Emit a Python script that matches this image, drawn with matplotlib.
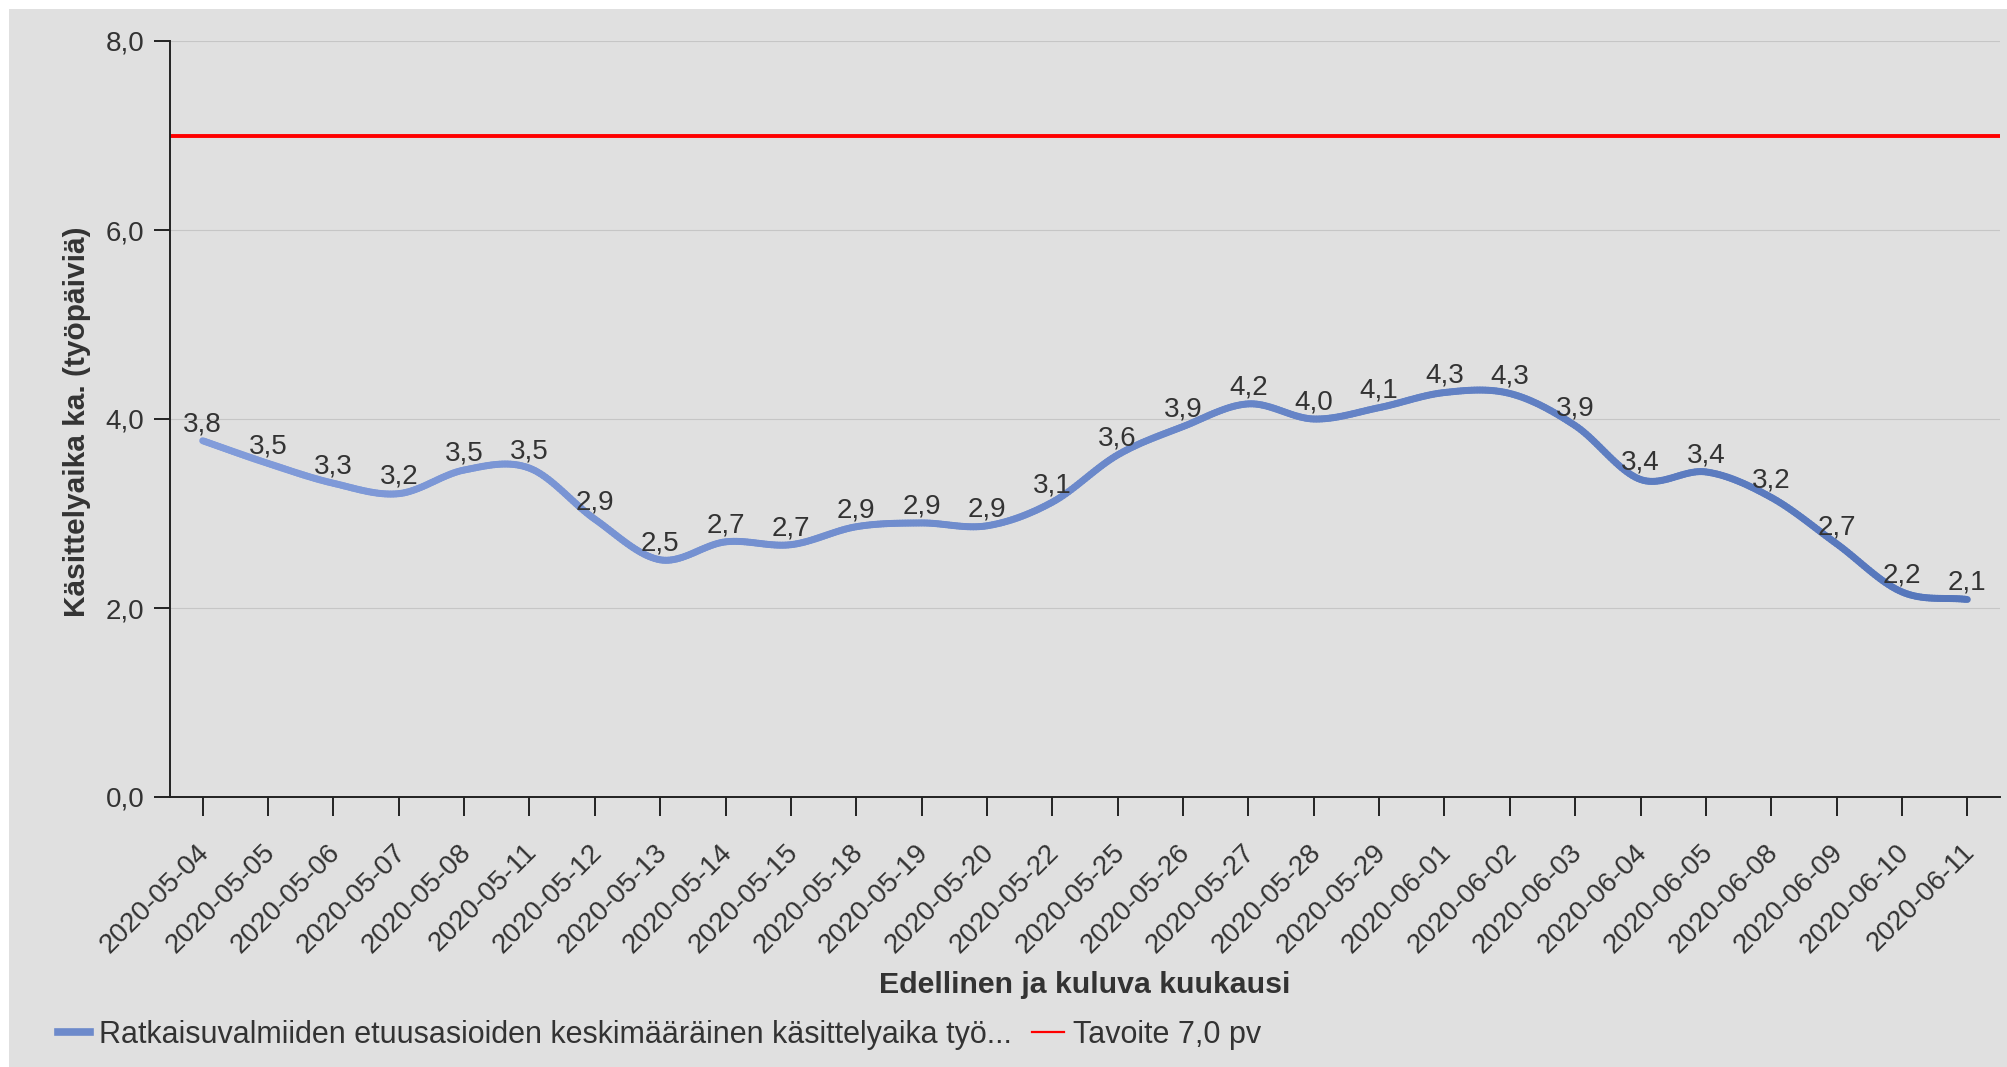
import numpy as np
import matplotlib
matplotlib.use("Agg")
import matplotlib.pyplot as plt
import matplotlib.transforms as mtransforms
from matplotlib.collections import LineCollection
from matplotlib.lines import Line2D
from matplotlib.patches import Rectangle
from matplotlib.colors import LinearSegmentedColormap

# data
dates = ["2020-05-04", "2020-05-05", "2020-05-06", "2020-05-07", "2020-05-08",
         "2020-05-11", "2020-05-12", "2020-05-13", "2020-05-14", "2020-05-15",
         "2020-05-18", "2020-05-19", "2020-05-20", "2020-05-22", "2020-05-25",
         "2020-05-26", "2020-05-27", "2020-05-28", "2020-05-29", "2020-06-01",
         "2020-06-02", "2020-06-03", "2020-06-04", "2020-06-05", "2020-06-08",
         "2020-06-09", "2020-06-10", "2020-06-11"]
days = [3.77, 3.53, 3.32, 3.21, 3.46, 3.48, 2.94, 2.51, 2.70, 2.67,
        2.86, 2.90, 2.87, 3.12, 3.62, 3.92, 4.16, 4.00, 4.12, 4.28,
        4.27, 3.93, 3.36, 3.44, 3.17, 2.68, 2.17, 2.09]
target = 7.0
y_ticks = [0, 2, 4, 6, 8]

series_name = "Ratkaisuvalmiiden etuusasioiden keskimääräinen käsittelyaika työ..."
target_name = "Tavoite 7,0 pv"

plt.rcParams["font.family"] = ["Liberation Sans", "DejaVu Sans"]
TXT = "#333333"
BG = "#e0e0e0"
FS = 20


def smooth(xs, ys, n=24):
    # cubic hermite (catmull-rom) path through the points, only for drawing
    xs = np.asarray(xs, float)
    ys = np.asarray(ys, float)
    m = np.zeros_like(ys)
    m[1:-1] = (ys[2:] - ys[:-2]) / 2
    m[0] = ys[1] - ys[0]
    m[-1] = ys[-1] - ys[-2]
    px, py = [], []
    for i in range(len(xs) - 1):
        t = np.linspace(0, 1, n, endpoint=False)
        h00 = 2 * t**3 - 3 * t**2 + 1
        h10 = t**3 - 2 * t**2 + t
        h01 = -2 * t**3 + 3 * t**2
        h11 = t**3 - t**2
        px.append(xs[i] + t * (xs[i + 1] - xs[i]))
        py.append(h00 * ys[i] + h10 * m[i] + h01 * ys[i + 1] + h11 * m[i + 1])
    px.append([xs[-1]])
    py.append([ys[-1]])
    return np.concatenate(px), np.concatenate(py)


fig = plt.figure(figsize=(20.08, 10.67), dpi=100, facecolor="white")
fig.patches.append(Rectangle((9 / 2008, 0), 1, 1 - 9 / 1067, transform=fig.transFigure,
                             facecolor=BG, edgecolor="none", zorder=-10))
ax = fig.add_axes([170 / 2008, 1 - 797 / 1067, 1830 / 2008, 756 / 1067])
ax.set_facecolor(BG)

x = np.arange(len(dates))
ax.set_xlim(-0.5, len(dates) - 0.5)
ax.set_ylim(0, 8)

ax.set_yticks(y_ticks)
ax.set_yticklabels([f"{v:.1f}".replace(".", ",") for v in y_ticks])
ax.grid(axis="y", color="#c6c6c6", lw=0.8)
ax.set_axisbelow(True)

ax.axhline(target, color="#ff0000", lw=2.8, zorder=2)

sx, sy = smooth(x, days)
pts = np.column_stack([sx, sy]).reshape(-1, 1, 2)
segs = np.concatenate([pts[:-1], pts[1:]], axis=1)
cmap = LinearSegmentedColormap.from_list("blu", ["#829cda", "#5576bb"])
lc = LineCollection(segs, cmap=cmap, linewidths=5, capstyle="round", zorder=3)
lc.set_array(sx[:-1])
lc.set_clim(0, len(dates) - 1)
ax.add_collection(lc)

for xi, v in zip(x, days):
    ax.annotate(f"{v:.1f}".replace(".", ","), (xi, v), xytext=(0, 12),
                textcoords="offset points", ha="center", va="center",
                fontsize=FS, color=TXT, zorder=4)

ax.set_xticks(x)
ax.set_xticklabels(dates, rotation=45, ha="right", va="baseline", rotation_mode="anchor")
ax.tick_params(axis="x", length=13.5, width=1.4, color="#222222", pad=27,
               labelsize=FS, labelcolor=TXT)
ax.tick_params(axis="y", length=11.5, width=1.4, color="#222222", pad=7,
               labelsize=FS, labelcolor=TXT)
# date labels sit a bit right of their ticks in the original
shift = mtransforms.ScaledTranslation(0.08, 0, fig.dpi_scale_trans)
for lab in ax.get_xticklabels():
    lab.set_transform(lab.get_transform() + shift)

for s in ["top", "right"]:
    ax.spines[s].set_visible(False)
for s in ["left", "bottom"]:
    ax.spines[s].set_color("#222222")
    ax.spines[s].set_linewidth(1.4)

ax.set_ylabel("Käsittelyaika ka. (työpäiviä)", fontsize=21.5, fontweight="bold", color=TXT)
ax.yaxis.set_label_coords(-0.0508, 0.497)
ax.yaxis.label.set_verticalalignment("center")
ax.set_xlabel("Edellinen ja kuluva kuukausi", fontsize=21.8, fontweight="bold", color=TXT)
ax.xaxis.set_label_coords(0.5, -0.249)
ax.xaxis.label.set_verticalalignment("center")

handles = [Line2D([], [], color="#6d8acb", lw=5.5),
           Line2D([], [], color="#ff0000", lw=1.6)]
fig.legend(handles, [series_name, target_name], loc="center left",
           bbox_to_anchor=(58 / 2008, 1 - 1035 / 1067), ncol=2, frameon=False,
           fontsize=22, labelcolor=TXT, handlelength=1.05, handletextpad=0.3,
           columnspacing=0.65, borderpad=0, borderaxespad=0)

fig.savefig("out.png", dpi=100, facecolor=fig.get_facecolor())
